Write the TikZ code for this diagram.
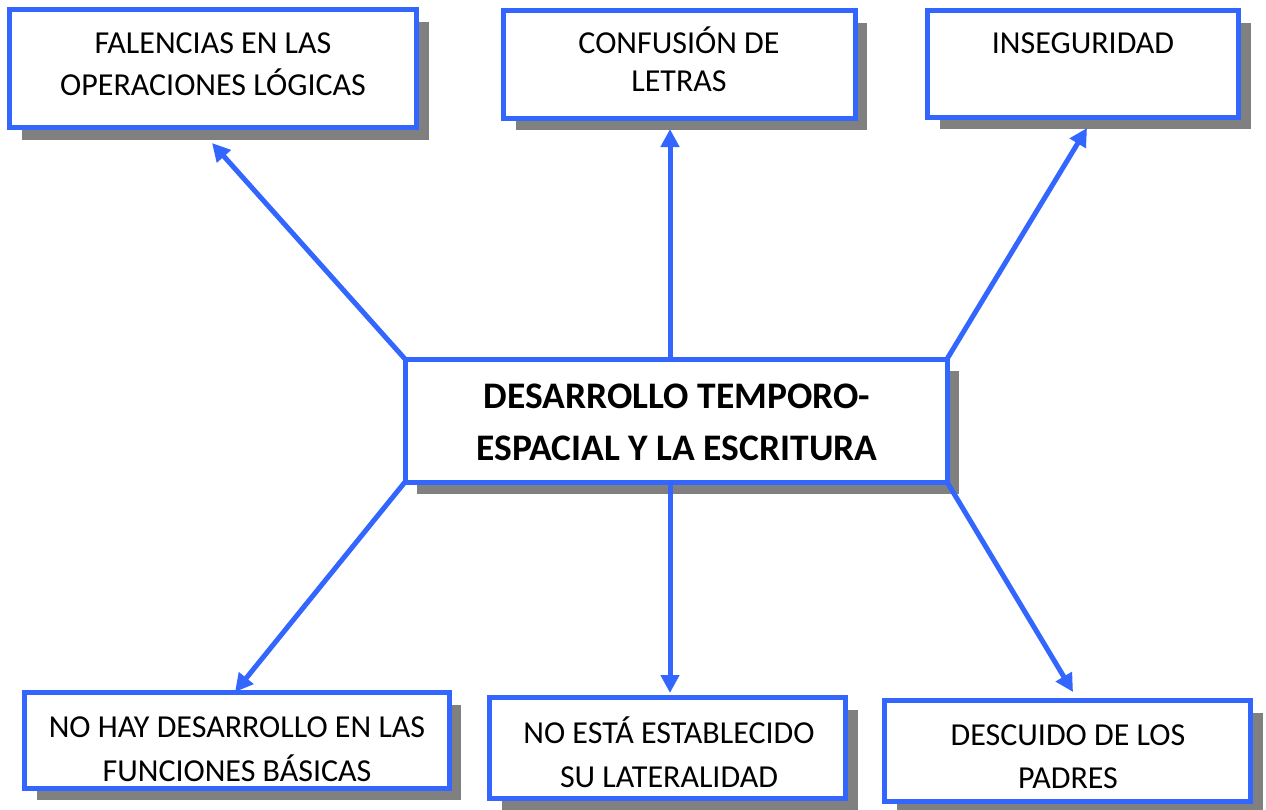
\documentclass[tikz,border=0pt]{standalone}
\usepackage{fontspec}
\setmainfont{Carlito}
\usetikzlibrary{shadows,arrows.meta,calc}
\definecolor{bblue}{RGB}{51,102,255}
\definecolor{shgray}{RGB}{128,128,128}
\tikzset{
  box/.style={draw=bblue, line width=5pt, fill=white, rectangle, inner sep=0pt, outer sep=0pt,
    drop shadow={shadow xshift=12pt, shadow yshift=-12pt, fill=shgray, opacity=1}},
  lbl/.style={anchor=base, inner sep=0pt, font=\fontsize{32}{38}\selectfont},
  blbl/.style={anchor=base, inner sep=0pt, font=\fontsize{37.5}{44}\selectfont\bfseries},
  arr/.style={draw=bblue, line width=5pt, -{Triangle[length=18pt,width=18pt]}}
}
\begin{document}
\begin{tikzpicture}[x=1pt,y=-1pt]
\useasboundingbox (0,0) rectangle (1266,809);
% boxes
\node[box, minimum width=407pt, minimum height=118pt] (b1) at (213,68.5) {};
\node[box, minimum width=351.5pt, minimum height=107.5pt] (b2) at (679.25,64.25) {};
\node[box, minimum width=311pt, minimum height=106.5pt] (b3) at (1083,63.75) {};
\node[box, minimum width=542pt, minimum height=123pt] (c) at (676,420.5) {};
\node[box, minimum width=424.5pt, minimum height=95.5pt] (b4) at (236.75,740.25) {};
\node[box, minimum width=356pt, minimum height=100.5pt] (b5) at (667.5,747.75) {};
\node[box, minimum width=366pt, minimum height=101pt] (b6) at (1067.5,751) {};
% texts
\node[lbl] (t1a) at (213,53) {FALENCIAS EN LAS};
\node[lbl] (t1b) at (213,95) {OPERACIONES LÓGICAS};
\node[lbl] (t2a) at (679,53) {CONFUSIÓN DE};
\node[lbl] (t2b) at (679,91) {LETRAS};
\node[lbl] (t3a) at (1083,53) {INSEGURIDAD};
\node[blbl] (tca) at (677,408) {DESARROLLO TEMPORO-};
\node[blbl] (tcb) at (677,460) {ESPACIAL Y LA ESCRITURA};
\node[lbl] (t4a) at (237,737) {NO HAY DESARROLLO EN LAS};
\node[lbl] (t4b) at (237,781) {FUNCIONES BÁSICAS};
\node[lbl] (t5a) at (669,743) {NO ESTÁ ESTABLECIDO};
\node[lbl] (t5b) at (669,787) {SU LATERALIDAD};
\node[lbl] (t6a) at (1068,745) {DESCUIDO DE LOS};
\node[lbl] (t6b) at (1068,788) {PADRES};
% arrow end points
\coordinate (s2) at (670,359);
\coordinate (s5) at (670,482);
\coordinate (e1) at (212,143);
\coordinate (e2) at (670,129);
\coordinate (e3) at (1087,128);
\coordinate (e4) at (235,692);
\coordinate (e5) at (670,693);
\coordinate (e6) at (1073,692);
% arrows
\draw[arr] (c.north west) -- (e1);
\draw[arr] (s2) -- (e2);
\draw[arr] (c.north east) -- (e3);
\draw[arr] (c.south west) -- (e4);
\draw[arr] (s5) -- (e5);
\draw[arr] (c.south east) -- (e6);
\end{tikzpicture}
\end{document}
